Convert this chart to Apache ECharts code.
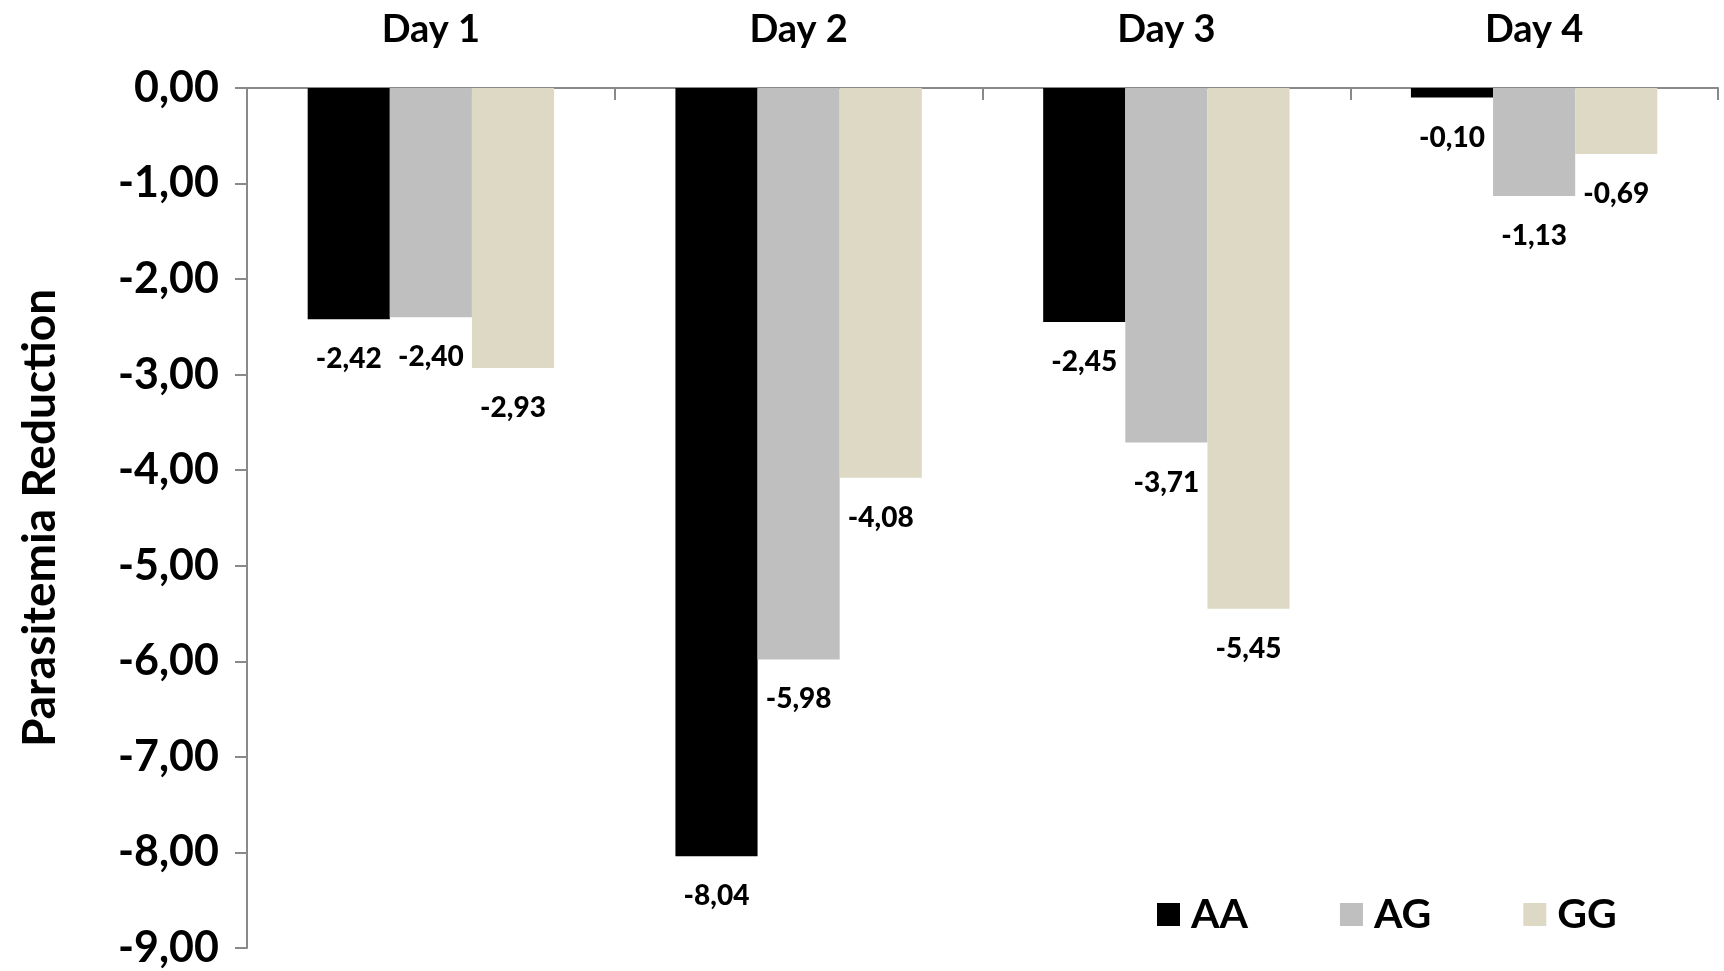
<!DOCTYPE html>
<html>
<head>
<meta charset="utf-8">
<script src="https://cdn.jsdelivr.net/npm/echarts@6/dist/echarts.min.js"></script>
<style>
html,body{margin:0;padding:0;background:#fff;}
#chart{width:1724px;height:971px;}
</style>
</head>
<body>
<div id="chart"></div>
<script>
const categories = ['Day 1', 'Day 2', 'Day 3', 'Day 4'];
const seriesNames = ['AA', 'AG', 'GG'];
const valuesAA = [-2.42, -8.04, -2.45, -0.10];
const valuesAG = [-2.40, -5.98, -3.71, -1.13];
const valuesGG = [-2.93, -4.08, -5.45, -0.69];
const colors = ['#000000', '#BFBFBF', '#DDD9C4'];
const yAxisTitle = 'Parasitemia Reduction';

const FONT = 'Lato';
const fmt = v => v.toFixed(2).replace('.', ',');

const chart = echarts.init(document.getElementById('chart'));
const seriesData = [valuesAA, valuesAG, valuesGG];
chart.setOption({
  animation: false,
  backgroundColor: '#ffffff',
  grid: { left: 247, right: 6, top: 88, bottom: 23, containLabel: false },
  legend: {
    data: seriesNames,
    left: 1152, top: 889,
    icon: 'rect', itemWidth: 23, itemHeight: 23, itemGap: 92,
    textStyle: { fontFamily: FONT, fontWeight: 'bold', fontSize: 41, color: '#000', padding: [0, 0, 0, 6] }
  },
  xAxis: {
    type: 'category', data: categories, position: 'top',
    axisLine: { show: true, lineStyle: { color: '#898989', width: 2 } },
    axisTick: { show: true, inside: true, length: 12, lineStyle: { color: '#898989', width: 2 } },
    axisLabel: { fontFamily: FONT, fontWeight: 'bold', fontSize: 38, color: '#000', margin: 39 },
    splitLine: { show: false }
  },
  yAxis: {
    type: 'value', min: -9, max: 0, interval: 1,
    name: yAxisTitle, nameLocation: 'middle', nameGap: 184, nameRotate: 90,
    nameTextStyle: { fontFamily: FONT, fontWeight: 'bold', fontSize: 46, color: '#000', padding: [0, 0, 0, 0] },
    axisLine: { show: true, lineStyle: { color: '#898989', width: 2 } },
    axisTick: { show: true, length: 12, lineStyle: { color: '#898989', width: 2 } },
    axisLabel: { fontFamily: FONT, fontWeight: 'bold', fontSize: 43, color: '#000', margin: 28, formatter: fmt },
    splitLine: { show: false }
  },
  series: seriesNames.map((n, i) => ({
    name: n, type: 'bar', data: seriesData[i],
    barGap: '0%', barCategoryGap: '33%',
    itemStyle: { color: colors[i] },
    label: {
      show: true, position: 'bottom', distance: 26,
      fontFamily: FONT, fontWeight: 900, fontSize: 28, color: '#000',
      formatter: p => fmt(p.value)
    }
  }))
});
</script>
</body>
</html>
